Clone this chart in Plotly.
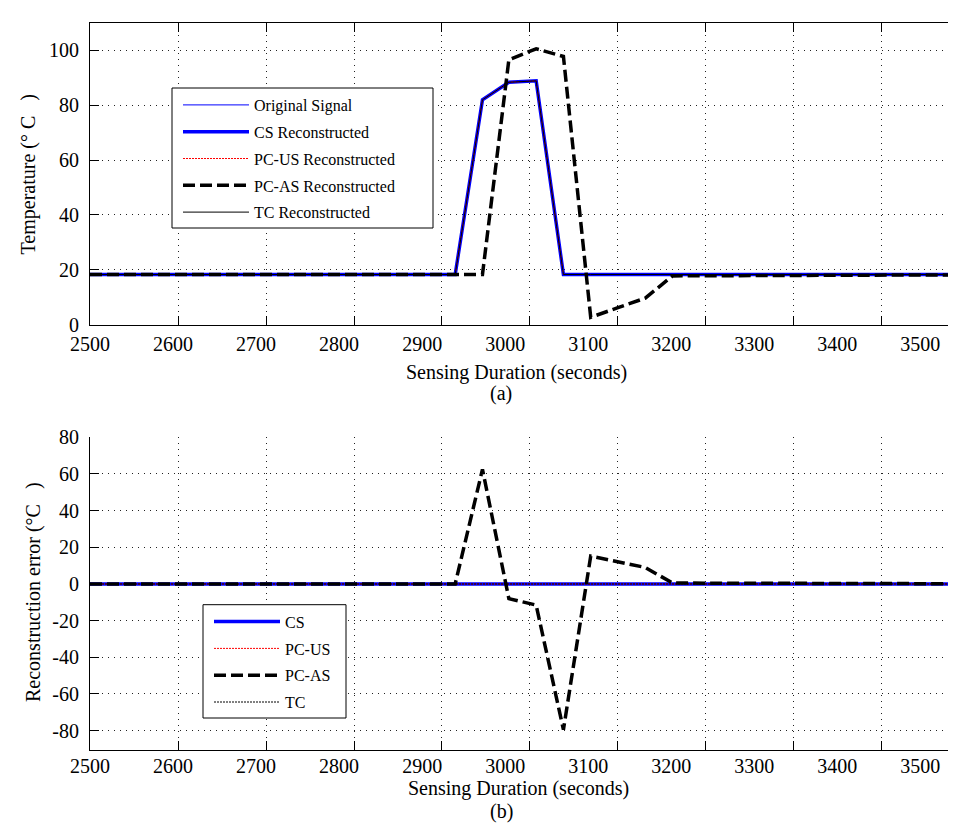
import plotly.graph_objects as go

# ---------------- data ----------------
time_s = [2500, 2915, 2946, 2976, 3007, 3038, 3069, 3100, 3131, 3162, 3600]

original_signal = [18.3, 18.3, 82.0, 88.4, 88.9, 18.3, 18.3, 18.3, 18.3, 18.3, 18.3]
cs_reconstructed = [18.3, 18.3, 82.0, 88.4, 88.9, 18.3, 18.3, 18.3, 18.3, 18.3, 18.3]
pcus_reconstructed = [18.3, 18.3, 82.0, 88.4, 88.9, 18.3, 18.3, 18.3, 18.3, 18.3, 18.3]
pcas_reconstructed = [18.3, 18.3, 18.3, 96.6, 100.6, 97.8, 2.7, 6.2, 9.7, 17.8, 18.3]
tc_reconstructed = [18.3, 18.3, 82.0, 88.4, 88.9, 18.3, 18.3, 18.3, 18.3, 18.3, 18.3]

err_cs = [0, 0, 0, 0, 0, 0, 0, 0, 0, 0, 0]
err_pcus = [0, 0, 0, 0, 0, 0, 0, 0, 0, 0, 0]
err_pcas = [0, 0, 62.5, -8.0, -11.5, -79.5, 15.2, 12.1, 9.0, 0.5, 0]
err_tc = [0, 0, 0, 0, 0, 0, 0, 0, 0, 0, 0]

x_grid_ticks = [2500, 2600, 2700, 2800, 2900, 3000, 3100, 3200, 3300, 3400]
x_tick_labels = [2500, 2600, 2700, 2800, 2900, 3000, 3100, 3200, 3300, 3400, 3500]
top_y_ticks = [0, 20, 40, 60, 80, 100]
bottom_y_ticks = [-80, -60, -40, -20, 0, 20, 40, 60, 80]
bottom_y_text = ["-80", "-60", "-40", "-20", "0", "20", "40", "60", "80"]

# ---------------- layout geometry (pixels) ----------------
W, H = 956, 823
FONT = "Liberation Serif"


def px(x):
    return x / W


def py(y):
    return 1 - y / H


fig = go.Figure()

top_specs = [
    ("Original Signal", original_signal, dict(color="#0000ff", width=1)),
    ("CS Reconstructed", cs_reconstructed, dict(color="#0000ff", width=3.5)),
    ("PC-US Reconstructed", pcus_reconstructed, dict(color="#ff0000", width=1, dash="2px,1px")),
    ("PC-AS Reconstructed", pcas_reconstructed, dict(color="#000000", width=3.5, dash="12px,5px")),
    ("TC Reconstructed", tc_reconstructed, dict(color="#000000", width=1)),
]
for i, (name, ys, line) in enumerate(top_specs):
    fig.add_trace(go.Scatter(x=time_s, y=ys, mode="lines", name=name, line=line,
                             xaxis="x", yaxis="y", legend="legend",
                             legendgroup="t%d" % i))

bottom_specs = [
    ("CS", err_cs, dict(color="#0000ff", width=3.5)),
    ("PC-US", err_pcus, dict(color="#ff0000", width=1, dash="2px,1px")),
    ("PC-AS", err_pcas, dict(color="#000000", width=3.5, dash="12px,5px")),
    ("TC", err_tc, dict(color="#000000", width=1, dash="2px,1px")),
]
for i, (name, ys, line) in enumerate(bottom_specs):
    fig.add_trace(go.Scatter(x=time_s, y=ys, mode="lines", name=name, line=line,
                             xaxis="x2", yaxis="y2", legend="legend2",
                             legendgroup="b%d" % i))

# empty traces so the tick-label axes are rendered
fig.add_trace(go.Scatter(x=[None], y=[None], xaxis="x3", yaxis="y", showlegend=False,
                         hoverinfo="skip", mode="lines"))
fig.add_trace(go.Scatter(x=[None], y=[None], xaxis="x4", yaxis="y2", showlegend=False,
                         hoverinfo="skip", mode="lines"))

x_dom = [px(82), 1.0]
top_dom = [py(316.7), py(15)]
bot_dom = [py(741.7), py(429.3)]
label_range = [2500, 3552.6]

grid = dict(showgrid=True, gridcolor="#222222", gridwidth=1, griddash="1px,5px")
axis_line = dict(showline=True, linecolor="#000000", linewidth=1)
tickfont = dict(family=FONT, size=20, color="#000000")

legend_common = dict(xanchor="left", yanchor="top", bgcolor="rgba(0,0,0,0)",
                     borderwidth=0, font=dict(family=FONT, size=16, color="#000000"),
                     itemwidth=66, tracegroupgap=3, traceorder="grouped")

fig.update_layout(
    width=W, height=H,
    margin=dict(l=0, r=0, t=0, b=0, pad=0, autoexpand=False),
    paper_bgcolor="white", plot_bgcolor="white",
    font=dict(family=FONT, color="#000000"),
    xaxis=dict(domain=x_dom, anchor="y", range=[2500, 3493.2], tickvals=x_grid_ticks,
               showticklabels=False, ticks="inside", ticklen=9, tickcolor="#000000",
               mirror="ticks", zeroline=False, automargin=False, **grid, **axis_line),
    yaxis=dict(domain=top_dom, anchor="x", range=[0, 110], tickvals=top_y_ticks,
               ticks="inside", ticklen=9, tickcolor="#000000", tickfont=tickfont,
               ticklabelstandoff=6, zeroline=False, automargin=False, **grid, **axis_line),
    xaxis3=dict(overlaying="x", anchor="y", side="bottom", range=label_range,
                tickvals=x_tick_labels, showgrid=False, showline=False, zeroline=False,
                ticks="", tickfont=tickfont, ticklabelstandoff=5, automargin=False),
    xaxis2=dict(domain=x_dom, anchor="y2", range=[2500, 3493.2], tickvals=x_grid_ticks,
                showticklabels=False, ticks="inside", ticklen=9, tickcolor="#000000",
                mirror=False, zeroline=False, automargin=False, **grid, **axis_line),
    yaxis2=dict(domain=bot_dom, anchor="x2", range=[-90.4, 80], tickvals=bottom_y_ticks,
                ticktext=bottom_y_text, ticks="inside", ticklen=9, tickcolor="#000000",
                tickfont=tickfont, ticklabelstandoff=6, zeroline=False, automargin=False,
                **grid, **axis_line),
    xaxis4=dict(overlaying="x2", anchor="y2", side="bottom", range=label_range,
                tickvals=x_tick_labels, showgrid=False, showline=False, zeroline=False,
                ticks="", tickfont=tickfont, ticklabelstandoff=2, automargin=False),
    legend=dict(x=px(170), y=py(80), **legend_common),
    legend2=dict(x=px(201), y=py(596.7), **legend_common),
    showlegend=True,
)

# legend frames
fig.add_shape(type="rect", xref="paper", yref="paper", layer="above",
              x0=px(164), x1=px(425), y0=py(220), y1=py(80),
              line=dict(color="#000000", width=1), fillcolor="white")
fig.add_shape(type="rect", xref="paper", yref="paper", layer="above",
              x0=px(195), x1=px(338), y0=py(710), y1=py(596.7),
              line=dict(color="#000000", width=1), fillcolor="white")

annot_font = dict(family=FONT, size=20, color="#000000")
annotations = [
    dict(text="Sensing Duration (seconds)", x=px(508), y=py(364)),
    dict(text="(a)", x=px(493), y=py(385)),
    dict(text="Sensing Duration (seconds)", x=px(510), y=py(780)),
    dict(text="(b)", x=px(493), y=py(803)),
    dict(text="Temperature (° C\u00a0\u00a0\u00a0)", x=px(20), y=py(166.5), textangle=-90),
    dict(text="Reconstruction error (°C\u00a0\u00a0\u00a0)", x=px(25), y=py(584), textangle=-90),
]
for a in annotations:
    fig.add_annotation(xref="paper", yref="paper", showarrow=False,
                       xanchor="center", yanchor="middle", font=annot_font, **a)

fig.write_html("out.html")
